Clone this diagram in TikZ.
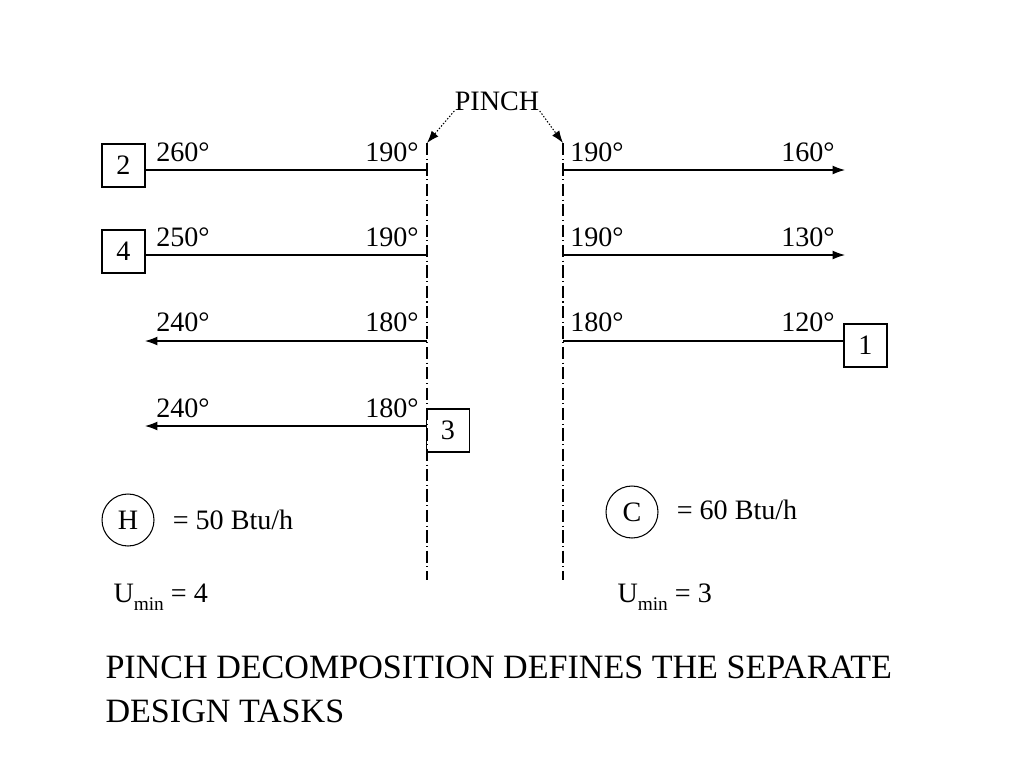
\documentclass[tikz,border=0pt]{standalone}
\usepackage{fontspec}
\setmainfont{Liberation Serif}
\usetikzlibrary{arrows.meta}
\tikzset{>={Latex[length=7pt,width=5pt]}}

\begin{document}
\begin{tikzpicture}[x=0.02cm, y=-0.02cm, line width=0.6pt,
    every node/.style={inner sep=0pt, font=\fontsize{16}{19}\selectfont},
    streambox/.style={draw, rectangle, minimum size=0.86cm},
    utility/.style={draw, circle, minimum size=1.04cm},
    pinchline/.style={dash pattern=on 7pt off 2pt on 0.6pt off 2pt},
    pointer/.style={->, dash pattern=on 0.8pt off 1pt}]
    \useasboundingbox (0,0) rectangle (1024,768);

    % Pinch
    \node (pinch) at (497,101) {PINCH};
    \coordinate (P1top) at (427,143);
    \coordinate (P1bot) at (427,580);
    \coordinate (P2top) at (563,143);
    \coordinate (P2bot) at (563,580);
    \draw[pinchline] (P1top) -- (P1bot);
    \draw[pinchline] (P2top) -- (P2bot);
    \draw[pointer] (pinch.south west) -- (P1top);
    \draw[pointer] (pinch.south east) -- (P2top);

    % Nodes
    \node[streambox] (b2) at (123.5,165.5) {2};
    \node[streambox] (b4) at (123.5,251.5) {4};
    \node[streambox] (b1) at (865.5,345.5) {1};
    \node[streambox] (b3) at (448,430.5) {3};

    \coordinate (s2M) at (427,170);  \coordinate (s2R) at (563,170);  \coordinate (s2E) at (845,170);
    \coordinate (s4M) at (427,255);  \coordinate (s4R) at (563,255);  \coordinate (s4E) at (845,255);
    \coordinate (s1M) at (427,341);  \coordinate (s1R) at (563,341);  \coordinate (s1E) at (145,341);
    \coordinate (s3M) at (427,426);  \coordinate (s3E) at (145,426);

    % Temperatures
    \foreach \y/\a/\b/\c/\d in {152/260/190/190/160, 237/250/190/190/130, 322/240/180/180/120}{
        \node (ta\y) at (183,\y) {\a°};
        \node (tb\y) at (392,\y) {\b°};
        \node (tc\y) at (597,\y) {\c°};
        \node (td\y) at (808,\y) {\d°};
    }
    \node (ta408) at (183,408) {240°};
    \node (tb408) at (392,408) {180°};

    % Arrows
    \draw (b2.east |- s2M) -- (s2M);
    \draw[->] (s2R) -- (s2E);
    \draw (b4.east |- s4M) -- (s4M);
    \draw[->] (s4R) -- (s4E);
    \draw[->] (s1M) -- (s1E);
    \draw (s1R) -- (b1.west |- s1R);
    \draw[->] (b3.west |- s3M) -- (s3E);

    % Utilities
    \node[utility] (hot) at (128,520) {H};
    \node (hotq) at (233,520) {= 50 Btu/h};
    \node[utility] (cold) at (632,512) {C};
    \node (coldq) at (737,510) {= 60 Btu/h};
    \node[anchor=west] (umin1) at (113,597) {U\raisebox{-0.6ex}{\fontsize{11}{12}\selectfont min} = 4};
    \node[anchor=west] (umin2) at (617,597) {U\raisebox{-0.6ex}{\fontsize{11}{12}\selectfont min} = 3};

    % Caption
    \node[anchor=north west, align=left, font=\fontsize{19.4}{25.5}\selectfont] (caption) at (105,655)
        {PINCH DECOMPOSITION DEFINES THE SEPARATE\\DESIGN TASKS};
\end{tikzpicture}
\end{document}
